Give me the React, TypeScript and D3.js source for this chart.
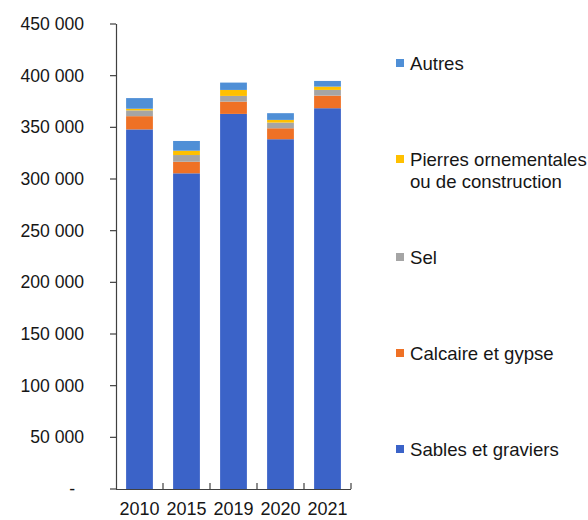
import React from "react";
import * as d3 from "d3";

const years = ["2010", "2015", "2019", "2020", "2021"];
const sables = [348000, 305500, 363000, 338500, 368500];
const calcaire = [12800, 11200, 11900, 10600, 12200];
const sel = [5600, 6500, 5500, 5500, 5500];
const pierres = [1600, 4200, 5800, 2600, 3200];
const autres = [10300, 9400, 7100, 6500, 5500];

const seriesNames = ["Sables et graviers", "Calcaire et gypse", "Sel", "Pierres ornementales ou de construction", "Autres"];
const seriesKeys = ["sables", "calcaire", "sel", "pierres", "autres"];
const seriesColors = ["#3b63c8", "#ef7125", "#a5a5a5", "#ffc000", "#4f8fd6"];
const yTicks = [0, 50000, 100000, 150000, 200000, 250000, 300000, 350000, 400000, 450000];
const yTickLabels = ["-", "50 000", "100 000", "150 000", "200 000", "250 000", "300 000", "350 000", "400 000", "450 000"];

export default function App() {
  const width = 588, height = 520;
  const x0 = 116, x1 = 351, yTop = 24, yBottom = 489;
  const table = years.map((yr, i) => ({
    year: yr,
    sables: sables[i],
    calcaire: calcaire[i],
    sel: sel[i],
    pierres: pierres[i],
    autres: autres[i],
  }));
  const stack = d3.stack<any>().keys(seriesKeys)(table);
  const x = d3.scaleBand().domain(years).range([x0, x1]).paddingInner(0.43).paddingOuter(0.215);
  const xb = d3.scaleBand().domain(years).range([x0, x1]);
  const y = d3.scaleLinear().domain([0, 450000]).range([yBottom, yTop]);
  const axisColor = "#404040";
  const textColor = "#161616";
  const font = "'Liberation Sans', Arial, sans-serif";

  // legend order top to bottom: Autres, Pierres, Sel, Calcaire, Sables
  const legendOrder = [4, 3, 2, 1, 0];
  const legendY = [63, 159, 257, 353, 449];

  return (
    <svg width={width} height={height} style={{ position: "absolute", left: 0, top: 0, background: "#fff" }} fontFamily={font}>
      {stack.map((s, si) => (
        <g key={seriesKeys[si]} fill={seriesColors[si]}>
          {s.map((d, i) => (
            <rect key={i} x={x(years[i])} width={x.bandwidth()} y={y(d[1])} height={y(d[0]) - y(d[1])} />
          ))}
        </g>
      ))}
      {/* Y axis */}
      <line x1={x0 + 0.5} x2={x0 + 0.5} y1={yTop} y2={yBottom} stroke={axisColor} strokeWidth={1.2} />
      {yTicks.map((t, i) => (
        <g key={t}>
          <line x1={x0 - 6} x2={x0} y1={y(t)} y2={y(t)} stroke={axisColor} strokeWidth={1.2} />
          <text x={t === 0 ? 75 : 84} y={y(t)} dy="0.35em" textAnchor="end" fontSize={17.6} fill={textColor}>
            {yTickLabels[i]}
          </text>
        </g>
      ))}
      {/* X axis */}
      <line x1={x0} x2={x1} y1={yBottom + 0.5} y2={yBottom + 0.5} stroke={axisColor} strokeWidth={1.2} />
      {years.map((yr, i) => (
        <g key={yr}>
          <line x1={(xb(yr) as number) + xb.bandwidth()} x2={(xb(yr) as number) + xb.bandwidth()} y1={yBottom - 6} y2={yBottom} stroke={axisColor} strokeWidth={1.2} />
          <text x={(xb(yr) as number) + xb.bandwidth() / 2} y={515} textAnchor="middle" fontSize={18} fill={textColor}>
            {yr}
          </text>
        </g>
      ))}
      {/* Legend */}
      {legendOrder.map((si, li) => {
        const cy = legendY[li];
        const name = seriesNames[si];
        const lines = si === 3 ? ["Pierres ornementales", "ou de construction"] : [name];
        return (
          <g key={si}>
            <rect x={396} y={cy - 4} width={8} height={8} fill={seriesColors[si]} />
            {lines.map((ln, k) => (
              <text key={k} x={410} y={cy + k * 22} dy="0.35em" fontSize={18.6} fill={textColor}>
                {ln}
              </text>
            ))}
          </g>
        );
      })}
    </svg>
  );
}
